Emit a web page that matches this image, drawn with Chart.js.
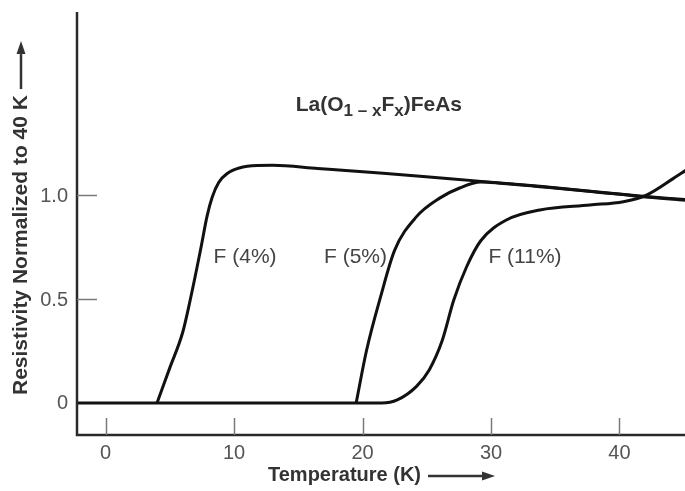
<!DOCTYPE html>
<html>
<head>
<meta charset="utf-8">
<script src="https://cdn.jsdelivr.net/npm/chart.js@4.4.1/dist/chart.umd.min.js"></script>
<style>
  html, body { margin: 0; padding: 0; background: #fff; }
  canvas { display: block; }
</style>
</head>
<body>
<canvas id="rhoChart" width="685" height="491"></canvas>
<script>
// Resistivity (normalized to 40 K) vs temperature for three fluorine levels
var temps4 = [4.0, 5.0, 6.0, 6.6, 7.4, 7.9, 8.3, 8.8, 9.5, 10.4, 11.8, 13.0, 16.5, 21.6, 26.8, 33.8, 41.6, 45.1];
var rho4   = [0, 0.17, 0.34, 0.5, 0.74, 0.9, 0.99, 1.06, 1.105, 1.13, 1.142, 1.143, 1.128, 1.105, 1.078, 1.042, 0.995, 0.978];

var temps5 = [19.5, 20.3, 21.4, 22.5, 24.2, 26.0, 27.6, 29.2, 30.5, 33.8, 38.0, 41.6, 45.1];
var rho5   = [0, 0.25, 0.51, 0.735, 0.896, 0.985, 1.035, 1.062, 1.058, 1.040, 1.016, 0.993, 0.975];

var temps11 = [-2.3, 21.5, 22.7, 24.2, 25.2, 26.2, 27.1, 28.1, 29.2, 31.2, 33.8, 37.7, 40.3, 42.1, 44.2, 45.2];
var rho11   = [0, 0, 0.015, 0.08, 0.16, 0.3, 0.495, 0.655, 0.78, 0.88, 0.928, 0.952, 0.968, 1.0, 1.08, 1.12];

var xTicks = [0, 10, 20, 30, 40];
var yTicks = [0, 0.5, 1.0];
var yTickLabels = ['0', '0.5', '1.0'];
var curveLabels = ['F (4%)', 'F (5%)', 'F (11%)'];

function toPoints(xs, ys) {
  return xs.map(function(t, i) { return { x: t, y: ys[i] }; });
}

function arrow(ctx, x0, y0, x1, y1) {
  var ang = Math.atan2(y1 - y0, x1 - x0);
  var head = 13, half = 4.5;
  ctx.beginPath();
  ctx.moveTo(x0, y0);
  ctx.lineTo(x1 - head * Math.cos(ang), y1 - head * Math.sin(ang));
  ctx.stroke();
  ctx.beginPath();
  ctx.moveTo(x1, y1);
  ctx.lineTo(x1 - head * Math.cos(ang) - half * Math.sin(ang), y1 - head * Math.sin(ang) + half * Math.cos(ang));
  ctx.lineTo(x1 - head * Math.cos(ang) + half * Math.sin(ang), y1 - head * Math.sin(ang) - half * Math.cos(ang));
  ctx.closePath();
  ctx.fill();
}

// axes, ticks, titles and curve labels drawn by hand on top of the plot
var frame = {
  id: 'frame',
  afterDatasetsDraw: function(chart) {
    var ctx = chart.ctx, a = chart.chartArea;
    var sx = chart.scales.x, sy = chart.scales.y;
    ctx.save();

    ctx.strokeStyle = '#2a2a2a';
    ctx.lineWidth = 2.5;
    ctx.beginPath();
    ctx.moveTo(a.left, a.top);
    ctx.lineTo(a.left, a.bottom);
    ctx.lineTo(a.right, a.bottom);
    ctx.stroke();

    // inward ticks
    ctx.strokeStyle = '#7a7a7a';
    ctx.lineWidth = 1.5;
    xTicks.forEach(function(v) {
      var px = Math.round(sx.getPixelForValue(v)) + 0.5;
      ctx.beginPath();
      ctx.moveTo(px, a.bottom);
      ctx.lineTo(px, a.bottom - 17);
      ctx.stroke();
    });
    yTicks.forEach(function(v) {
      if (v === 0) return;
      var py = Math.round(sy.getPixelForValue(v)) + 0.5;
      ctx.beginPath();
      ctx.moveTo(a.left, py);
      ctx.lineTo(a.left + 20, py);
      ctx.stroke();
    });

    // tick labels
    ctx.fillStyle = '#555';
    ctx.font = '20px "Liberation Sans", Arial, sans-serif';
    ctx.textAlign = 'center';
    ctx.textBaseline = 'middle';
    xTicks.forEach(function(v) {
      ctx.fillText(String(v), sx.getPixelForValue(v), a.bottom + 18);
    });
    ctx.textAlign = 'right';
    yTicks.forEach(function(v, i) {
      ctx.fillText(yTickLabels[i], a.left - 9, sy.getPixelForValue(v) + 1);
    });

    // axis titles with arrows
    ctx.fillStyle = '#333';
    ctx.strokeStyle = '#333';
    ctx.font = 'bold 20px "Liberation Sans", Arial, sans-serif';
    ctx.textAlign = 'left';
    var xt = 'Temperature (K)';
    var xw = ctx.measureText(xt).width;
    var x0 = 268;
    ctx.fillText(xt, x0, 475);
    ctx.lineWidth = 2.5;
    arrow(ctx, x0 + xw + 7, 476, x0 + xw + 74, 476);

    ctx.save();
    ctx.translate(21, 395);
    ctx.rotate(-Math.PI / 2);
    ctx.font = 'bold 21px "Liberation Sans", Arial, sans-serif';
    var yt = 'Resistivity Normalized to 40 K';
    var yw = ctx.measureText(yt).width;
    ctx.fillText(yt, 0, 0);
    arrow(ctx, yw + 6, 0, yw + 54, 0);
    ctx.restore();

    // compound formula with subscripts
    var tx = sx.getPixelForValue(14.8), ty = sy.getPixelForValue(1.43);
    var parts = [['La(O', 0], ['1 \u2013 x', 1], ['F', 0], ['x', 1], [')FeAs', 0]];
    parts.forEach(function(p) {
      ctx.font = p[1] ? 'bold 17px "Liberation Sans", Arial, sans-serif' : 'bold 21px "Liberation Sans", Arial, sans-serif';
      ctx.fillText(p[0], tx, ty + (p[1] ? 6 : 0));
      tx += ctx.measureText(p[0]).width;
    });

    // curve labels
    ctx.fillStyle = '#444';
    ctx.font = '21px "Liberation Sans", Arial, sans-serif';
    ctx.textBaseline = 'middle';
    var spots = [[8.4, 0.70], [17.0, 0.70], [29.8, 0.70]];
    curveLabels.forEach(function(t, i) {
      ctx.fillText(t, sx.getPixelForValue(spots[i][0]), sy.getPixelForValue(spots[i][1]));
    });

    ctx.restore();
  }
};

function series(xs, ys) {
  return {
    data: toPoints(xs, ys),
    borderColor: '#111',
    borderWidth: 3,
    pointRadius: 0,
    fill: false,
    cubicInterpolationMode: 'monotone'
  };
}

new Chart(document.getElementById('rhoChart'), {
  type: 'line',
  data: {
    datasets: [series(temps11, rho11), series(temps5, rho5), series(temps4, rho4)]
  },
  options: {
    responsive: false,
    devicePixelRatio: 1,
    animation: false,
    layout: { padding: { left: 77, right: 0, top: 12, bottom: 56 } },
    plugins: { legend: { display: false }, tooltip: { enabled: false } },
    scales: {
      x: { type: 'linear', min: -2.23, max: 45.1, display: false },
      y: { type: 'linear', min: -0.154, max: 1.88, display: false }
    }
  },
  plugins: [frame]
});
</script>
</body>
</html>
